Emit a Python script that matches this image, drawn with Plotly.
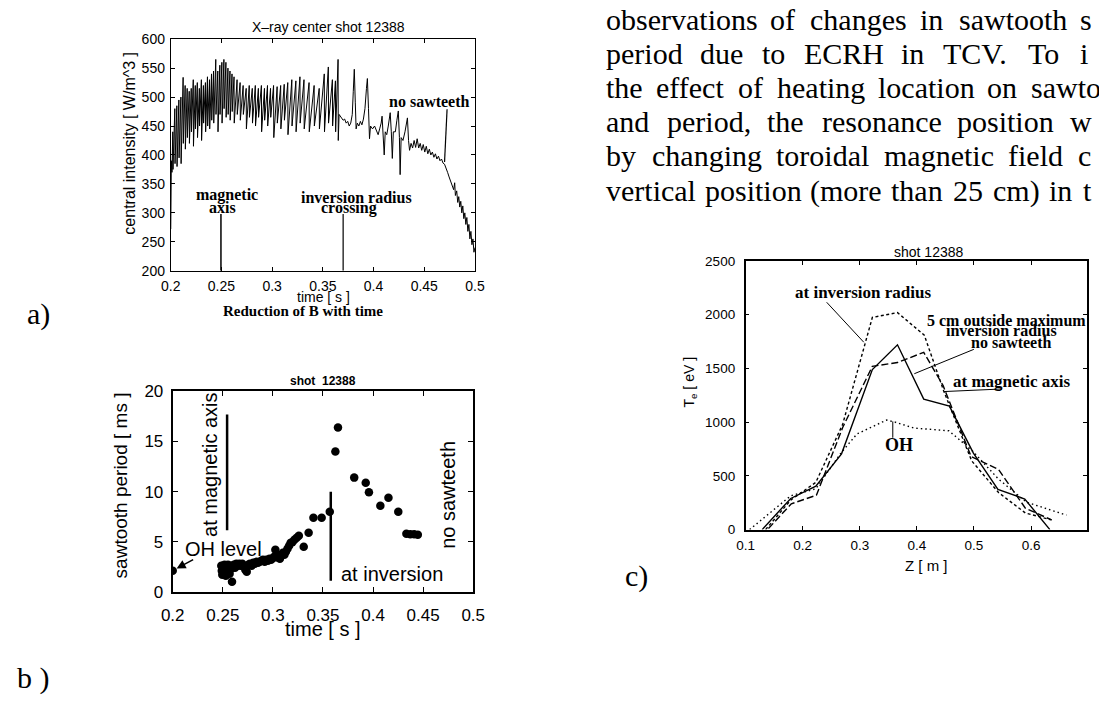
import plotly.graph_objects as go

W, H = 1099, 706
SANS = "Liberation Sans, Arial, sans-serif"
SERIF = "Liberation Serif, Times New Roman, serif"

# ---------------- Panel a : X-ray central intensity ----------------
start_t = [0.2000, 0.2006, 0.2012]
start_v = [272, 390, 370]
tooth_t = [0.2020, 0.2040, 0.2060, 0.2080, 0.2100,
           0.2122, 0.2142, 0.2162, 0.2182, 0.2202, 0.2222, 0.2242, 0.2262,
           0.2282, 0.2302, 0.2322, 0.2342, 0.2362, 0.2382, 0.2402, 0.2422,
           0.2444, 0.2464, 0.2484, 0.2504, 0.2524, 0.2544, 0.2564, 0.2584, 0.2604, 0.2624,
           0.2654, 0.2684, 0.2714, 0.2744, 0.2774, 0.2804, 0.2834, 0.2864, 0.2894, 0.2924, 0.2954, 0.2984,
           0.3014, 0.3049, 0.3084, 0.3119, 0.3154, 0.3194, 0.3234, 0.3274, 0.3314,
           0.3364, 0.3414, 0.3464, 0.3514, 0.3554, 0.3594, 0.3624, 0.3650]
tooth_hi = [440, 480, 485, 495, 500,
            534, 520, 515, 510, 515, 530, 520, 525, 515, 530, 520, 525, 535, 530, 540, 545,
            565, 545, 555, 560, 565, 560, 550, 545, 540, 535,
            530, 525, 520, 515, 520, 515, 520, 515, 520, 515, 520, 515,
            520, 518, 520, 522, 525, 530, 528, 535, 530,
            525, 520, 515, 540, 552, 530, 528, 565]
tooth_lo = [375, 385, 380, 395, 385,
            420, 410, 430, 420, 440, 415, 445, 430, 450, 425, 455, 440, 450, 445, 460, 455,
            470, 440, 470, 455, 480, 465, 470, 460, 475, 455,
            470, 460, 470, 445, 465, 455, 450, 465, 440, 460, 450, 465,
            430, 455, 445, 460, 435, 450, 440, 455, 445,
            440, 450, 445, 440, 455, 450, 440, 425]
tail_t = [0.3660, 0.3680, 0.3700, 0.3715, 0.3730, 0.3745, 0.3760, 0.3775, 0.3790, 0.3800,
          0.3810, 0.3820, 0.3828, 0.3840, 0.3855, 0.3870, 0.3885, 0.3900, 0.3915, 0.3930,
          0.3939, 0.3950, 0.3960, 0.3970, 0.3990, 0.4010, 0.4030, 0.4045, 0.4060, 0.4075,
          0.4084, 0.4095, 0.4105, 0.4115, 0.4130, 0.4145, 0.4164, 0.4175, 0.4185, 0.4195,
          0.4215, 0.4230, 0.4244, 0.4255, 0.4262, 0.4272, 0.4290, 0.4310, 0.4334, 0.4345,
          0.4355, 0.4370, 0.4385, 0.4400, 0.4415, 0.4430, 0.4445, 0.4460, 0.4475, 0.4490,
          0.4505, 0.4520, 0.4535, 0.4550, 0.4565, 0.4580, 0.4595, 0.4610, 0.4625, 0.4640,
          0.4655, 0.4670, 0.4685, 0.4700, 0.4715, 0.4730, 0.4745, 0.4760, 0.4775, 0.4790,
          0.4800, 0.4807, 0.4820, 0.4830, 0.4840, 0.4850, 0.4860, 0.4870, 0.4880, 0.4890,
          0.4900, 0.4910, 0.4920, 0.4930, 0.4940, 0.4950, 0.4960, 0.4970, 0.4980, 0.4990, 0.5000]
tail_v = [470, 465, 460, 462, 455, 458, 450, 455, 470, 510,
          548, 490, 445, 455, 450, 458, 452, 462, 480, 515,
          532, 480, 428, 450, 445, 450, 440, 435, 445, 455,
          467, 440, 400, 440, 435, 450, 473, 440, 394, 440,
          440, 460, 476, 430, 366, 430, 425, 440, 464, 425,
          408, 420, 412, 425, 413, 428, 412, 420, 408, 418,
          405, 415, 402, 410, 400, 405, 396, 402, 393, 398,
          390, 393, 386, 384, 378, 370, 362, 355, 345, 340,
          352, 330, 338, 318, 328, 310, 320, 300, 312, 290,
          300, 280, 292, 268, 280, 255, 268, 245, 255, 232, 240]
a_xticks = [0.2, 0.25, 0.3, 0.35, 0.4, 0.45, 0.5]
a_xticktext = ["0.2", "0.25", "0.3", "0.35", "0.4", "0.45", "0.5"]
a_yticks = [200, 250, 300, 350, 400, 450, 500, 550, 600]
a_mag_axis = (0.2495, 200, 298)
a_inv_cross = (0.3700, 200, 298)
a_no_st = (0.4700, 388, 0.4725, 479)

# ---------------- Panel b : sawtooth period ----------------
b_t = [0.2000,
       0.2485, 0.2490, 0.2495, 0.2500, 0.2505, 0.2512, 0.2518, 0.2524, 0.2530, 0.2538,
       0.2545, 0.2552, 0.2560, 0.2568, 0.2576, 0.2584, 0.2592, 0.2600,
       0.2610, 0.2622, 0.2635, 0.2650, 0.2665, 0.2680, 0.2695, 0.2710, 0.2725, 0.2739,
       0.2755, 0.2770, 0.2788, 0.2804, 0.2820, 0.2836, 0.2852, 0.2869, 0.2885, 0.2901,
       0.2918, 0.2934, 0.2950, 0.2966, 0.2982, 0.2999, 0.3013, 0.3025, 0.3040, 0.3055,
       0.3070, 0.3085, 0.3100, 0.3115, 0.3130, 0.3146, 0.3162, 0.3178, 0.3194, 0.3215,
       0.3238, 0.3259, 0.3308, 0.3357, 0.3405, 0.3487, 0.3568, 0.3624, 0.3650,
       0.3812, 0.3927, 0.3959, 0.4073, 0.4154, 0.4252,
       0.4333, 0.4372, 0.4410, 0.4447]
b_v = [2.1,
       2.6, 2.1, 1.7, 2.6, 2.3, 1.9, 2.7, 2.2, 1.6, 2.5,
       2.0, 2.7, 2.4, 1.8, 2.6, 2.3, 1.0, 2.5,
       2.7, 2.4, 2.8, 2.6, 2.8, 2.6, 2.8, 2.5, 2.2, 2.0,
       2.7, 2.8, 2.6, 2.9, 2.8, 3.0, 2.9, 3.0, 3.1, 3.2,
       3.0, 3.2, 3.1, 3.3, 3.2, 3.35, 3.5, 4.2, 3.6, 3.4,
       3.3, 3.7, 3.9, 3.7, 4.0, 4.3, 4.6, 4.9, 4.95, 5.2,
       5.4, 5.6, 4.5, 5.9, 7.4, 7.4, 8.0, 14.0, 16.4,
       11.4, 10.9, 9.95, 8.6, 9.4, 8.0,
       5.8, 5.75, 5.75, 5.7]
b_xticks = [0.2, 0.25, 0.3, 0.35, 0.4, 0.45, 0.5]
b_xticktext = ["0.2", "0.25", "0.3", "0.35", "0.4", "0.45", "0.5"]
b_yticks = [0, 5, 10, 15, 20]
b_mag_bar = (0.2543, 6.15, 17.7)
b_inv_bar = (0.3578, 1.1, 10.0)

# ---------------- Panel c : Te profiles ----------------
c_z_solid = [0.129, 0.179, 0.223, 0.268, 0.322, 0.366, 0.412, 0.457, 0.499, 0.542, 0.589, 0.633]
c_te_solid = [0, 290, 405, 705, 1490, 1720, 1215, 1150, 712, 375, 285, 0]
c_z_short = [0.135, 0.179, 0.223, 0.270, 0.322, 0.366, 0.413, 0.447, 0.496, 0.543, 0.590, 0.636]
c_te_short = [0, 275, 440, 980, 1975, 2020, 1810, 1290, 640, 345, 155, 90]
c_z_long = [0.140, 0.180, 0.224, 0.270, 0.322, 0.366, 0.412, 0.446, 0.495, 0.543, 0.590, 0.636]
c_te_long = [10, 240, 320, 950, 1520, 1555, 1650, 1340, 680, 560, 200, 90]
c_z_dot = [0.107, 0.179, 0.223, 0.268, 0.295, 0.347, 0.362, 0.395, 0.456, 0.496, 0.543, 0.592, 0.662]
c_te_dot = [0, 315, 380, 720, 890, 1020, 1000, 945, 920, 740, 470, 255, 135]
c_xticks = [0.1, 0.2, 0.3, 0.4, 0.5, 0.6]
c_xticktext = ["0.1", "0.2", "0.3", "0.4", "0.5", "0.6"]
c_yticks = [0, 500, 1000, 1500, 2000, 2500]

# ---------------- page text (justified lines, cut at the right edge) ----------------
page_lines = ["observations of changes in sawtooth s",
              "period due to ECRH in TCV. To i",
              "the effect of heating location on sawto",
              "and period, the resonance position w",
              "by changing toroidal magnetic field c",
              "vertical position (more than 25 cm) in t"]
page_line_y = [11, 46, 81, 116, 151, 187]
page_last_word_x = [1090, 1090, 1040, 1080, 1088, 1093]
PAGE_X0 = 605
PAGE_SIZE = 30

TIMES_W = {'a': 444, 'b': 500, 'c': 444, 'd': 500, 'e': 444, 'f': 333, 'g': 500, 'h': 500,
           'i': 278, 'j': 278, 'k': 500, 'l': 278, 'm': 778, 'n': 500, 'o': 500, 'p': 500,
           'q': 500, 'r': 333, 's': 389, 't': 278, 'u': 500, 'v': 500, 'w': 722, 'x': 500,
           'y': 500, 'z': 444, '.': 250, ',': 250, '(': 333, ')': 333, '2': 500, '5': 500,
           'E': 611, 'C': 667, 'R': 667, 'H': 722, 'T': 611, 'V': 722}


def word_w(word, size):
    return sum(TIMES_W.get(ch, 500) for ch in word) * size / 1000.0


def px(x):
    return x / W


def py(y):
    return 1 - y / H


# build sawtooth polyline from the read-off crash points
a_x, a_y = list(start_t), list(start_v)
for t, hi, lo in zip(tooth_t, tooth_hi, tooth_lo):
    a_x += [t, t + 0.0002]
    a_y += [hi, lo]
a_x += tail_t
a_y += tail_v

fig = go.Figure()
fig.add_trace(go.Scatter(x=a_x, y=a_y, mode="lines", line=dict(color="black", width=1),
                         xaxis="x", yaxis="y", showlegend=False, hoverinfo="skip"))
fig.add_trace(go.Scatter(x=b_t, y=b_v, mode="markers",
                         marker=dict(color="black", size=8.5, line=dict(width=0)),
                         xaxis="x2", yaxis="y2", showlegend=False, hoverinfo="skip"))
for zz, tt, dash in [(c_z_dot, c_te_dot, "1.5px,3px"), (c_z_long, c_te_long, "7px,3px"),
                     (c_z_short, c_te_short, "3px,2.5px"), (c_z_solid, c_te_solid, "solid")]:
    fig.add_trace(go.Scatter(x=zz, y=tt, mode="lines", line=dict(color="black", width=1.4, dash=dash),
                             xaxis="x3", yaxis="y3", showlegend=False, hoverinfo="skip"))


def axis(domain, rng, anchor, tickvals, ticktext=None, size=14, lw=1, tl=4, standoff=3):
    d = dict(domain=domain, range=rng, anchor=anchor, showline=True, linecolor="black",
             linewidth=lw, mirror="ticks", ticks="inside", ticklen=tl, tickcolor="black",
             tickwidth=1, showgrid=False, zeroline=False, tickmode="array", tickvals=tickvals,
             tickfont=dict(family=SANS, size=size, color="black"), ticklabelstandoff=standoff)
    if ticktext is not None:
        d["ticktext"] = ticktext
    return d


layout = dict(
    width=W, height=H, margin=dict(l=0, r=0, t=0, b=0),
    paper_bgcolor="white", plot_bgcolor="white", showlegend=False,
    xaxis=axis([px(162.3), px(473.3)], [0.2, 0.5], "y", a_xticks, a_xticktext, 14, 1, 4, 2),
    yaxis=axis([py(269), py(31)], [200, 600], "x", a_yticks, None, 14, 1, 4, 2),
    xaxis2=axis([px(164.3), px(471.5)], [0.2, 0.5], "y2", b_xticks, b_xticktext, 17, 2, 5, 7),
    yaxis2=axis([py(599), py(393)], [0, 20], "x2", b_yticks, None, 17, 2, 5, 4),
    xaxis3=axis([px(750), 1.0], [0.1, 0.698], "y3", c_xticks, c_xticktext, 13.5, 1.5, 4, 2),
    yaxis3=axis([py(535), py(259)], [0, 2500], "x3", c_yticks, None, 13.5, 1.5, 4, 6),
)

ann = []


def txt(x, y, text, size, family=SANS, xref="paper", yref="paper", xanchor="center",
        angle=0, yanchor="middle"):
    if xref == "paper":
        x = px(x)
    if yref == "paper":
        y = py(y)
    ann.append(dict(x=x, y=y, xref=xref, yref=yref, text=text, showarrow=False,
                    xanchor=xanchor, yanchor=yanchor, textangle=angle,
                    font=dict(family=family, size=size, color="black")))


# page text, word by word so that each line is justified like the scan
for line, yy, last_x in zip(page_lines, page_line_y, page_last_word_x):
    words = line.split(" ")
    widths = [word_w(w, PAGE_SIZE) for w in words]
    gap = (last_x - PAGE_X0 - sum(widths[:-1])) / (len(words) - 1)
    gap = max(gap, 0.2 * PAGE_SIZE)
    xx = PAGE_X0
    for w, wd in zip(words, widths):
        txt(xx, yy, w, PAGE_SIZE, SERIF, xanchor="left")
        xx += wd + gap

# panel a texts
txt(324, 18, "X\u2013ray center shot 12388", 14)
txt(120, 138, "central intensity [ W/m^3 ]", 16, angle=-90)
txt(318, 296, "time [ s ]", 14)
txt(297, 310, "<b>Reduction of B with time</b>", 15, SERIF)
txt(27, 313, "a)", 30, SERIF)
txt(0.2557, 330, "<b>magnetic</b>", 16, SERIF, "x", "y")
txt(0.2508, 310, "<b>axis</b>", 16, SERIF, "x", "y")
txt(0.3833, 326, "<b>inversion radius</b>", 16, SERIF, "x", "y")
txt(0.3756, 308, "<b>crossing</b>", 16, SERIF, "x", "y")
txt(0.4553, 492, "<b>no sawteeth</b>", 16, SERIF, "x", "y")

# panel b texts
txt(318, 382, "<b>shot  12388</b>", 12)
txt(111, 490, "sawtooth period [ ms ]", 19, angle=-90)
txt(318, 637, "time [ s ]", 20)
txt(203, 468, "at magnetic axis", 20, angle=-90)
txt(216, 555, "OH level", 20)
txt(334, 581, "at inversion", 20, xanchor="left")
txt(445, 499, "no sawteeth", 20, angle=-90)
txt(22, 688, "b )", 30, SERIF)

# panel c texts
txt(937, 250, "shot 12388", 14)
txt(693, 383, "T<sub>e</sub> [ eV ]", 14, angle=-90)
txt(935, 572, "Z [ m ]", 15)
txt(638, 583, "c)", 30, SERIF)
txt(0.3057, 2207, "<b>at inversion radius</b>", 17, SERIF, "x3", "y3")
txt(0.4146, 1950, "<b>5 cm outside maximum</b>", 16, SERIF, "x3", "y3", xanchor="left")
txt(0.549, 1850, "<b>inversion radius</b>", 16, SERIF, "x3", "y3")
txt(0.5664, 1740, "<b>no sawteeth</b>", 16, SERIF, "x3", "y3")
txt(0.5664, 1380, "<b>at magnetic axis</b>", 17, SERIF, "x3", "y3")
txt(0.3694, 786, "<b>OH</b>", 18, SERIF, "x3", "y3")

# OH level arrow in panel b
ann.append(dict(x=0.2039, y=2.33, ax=0.2219, ay=3.3, xref="x2", yref="y2", axref="x2", ayref="y2",
                text="", showarrow=True, arrowhead=2, arrowsize=1.2, arrowwidth=1.5, arrowcolor="black"))

shapes = []


def seg(x0, y0, x1, y1, xr, yr, w=1):
    shapes.append(dict(type="line", x0=x0, y0=y0, x1=x1, y1=y1, xref=xr, yref=yr,
                       line=dict(color="black", width=w)))


seg(a_mag_axis[0], a_mag_axis[1], a_mag_axis[0], a_mag_axis[2], "x", "y", 1.5)
seg(a_inv_cross[0], a_inv_cross[1], a_inv_cross[0], a_inv_cross[2], "x", "y", 1.2)
seg(a_no_st[0], a_no_st[1], a_no_st[2], a_no_st[3], "x", "y", 1.2)
seg(b_mag_bar[0], b_mag_bar[1], b_mag_bar[0], b_mag_bar[2], "x2", "y2", 2.5)
seg(b_inv_bar[0], b_inv_bar[1], b_inv_bar[0], b_inv_bar[2], "x2", "y2", 2.5)
seg(0.242, 2116, 0.307, 1744, "x3", "y3", 1)
seg(0.4998, 1678, 0.3955, 1451, "x3", "y3", 1)
seg(0.549, 1309, 0.4476, 1285, "x3", "y3", 1)
seg(0.3578, 1007, 0.3578, 855, "x3", "y3", 1)

layout["annotations"] = ann
layout["shapes"] = shapes
fig.update_layout(**layout)
fig.write_html("out.html", config={"displayModeBar": False},
               post_script="document.body.style.margin='0px';document.body.style.overflow='hidden';")
